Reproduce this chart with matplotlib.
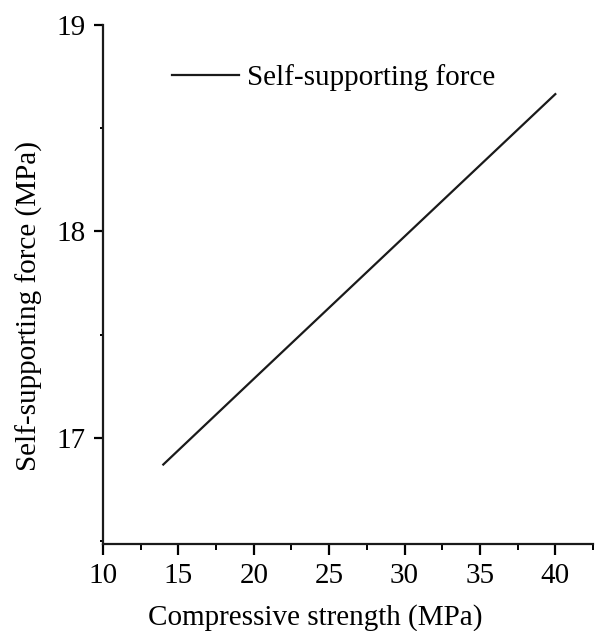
import matplotlib.pyplot as plt
from matplotlib.ticker import MultipleLocator

plt.rcParams['font.family'] = ['Liberation Serif', 'DejaVu Serif']

# compressive strength (MPa) vs self-supporting force (MPa)
strength = [14, 20, 25, 30, 35, 40]
force = [16.87, 17.285, 17.63, 17.975, 18.32, 18.665]

fig = plt.figure(figsize=(5.97, 6.31), dpi=100)
ax = fig.add_axes([0.1725, 0.1379, 0.8208, 0.8225])

ax.plot(strength, force, color='#1a1a1a', linewidth=1.6, label='Self-supporting force')

ax.set_xlim(10, 42.5)
ax.set_ylim(16.485, 19)
ax.xaxis.set_major_locator(MultipleLocator(5))
ax.xaxis.set_minor_locator(MultipleLocator(2.5))
ax.yaxis.set_major_locator(MultipleLocator(1))
ax.yaxis.set_minor_locator(MultipleLocator(0.5))

for side in ['top', 'right']:
    ax.spines[side].set_visible(False)
for side in ['left', 'bottom']:
    ax.spines[side].set_linewidth(1.6)
    ax.spines[side].set_color('#1a1a1a')

ax.tick_params(axis='x', which='major', direction='out', length=8, width=1.6, labelsize=21, pad=6)
ax.tick_params(axis='x', which='minor', direction='out', length=4.5, width=1.4)
ax.tick_params(axis='y', which='major', direction='out', length=6.5, width=1.6, labelsize=21, pad=6)
ax.tick_params(axis='y', which='minor', direction='out', length=2.5, width=1.4)

ax.set_xlabel('Compressive strength (MPa)', fontsize=21)
ax.set_ylabel('Self-supporting force (MPa)', fontsize=21)
ax.xaxis.set_label_coords(0.4327, -0.1156)
ax.yaxis.set_label_coords(-0.1224, 0.459)

ax.legend(loc='upper left', bbox_to_anchor=(0.088, 0.975), frameon=False, fontsize=21,
          handlelength=2.3, handletextpad=0.27)

fig.savefig('out.png', dpi=100)
